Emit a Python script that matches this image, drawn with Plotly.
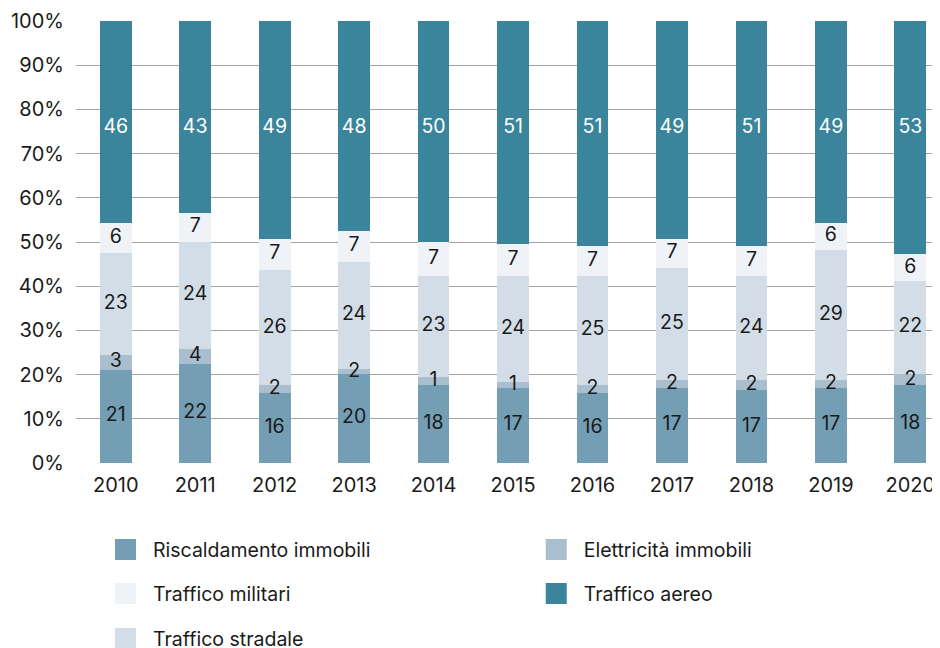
import numpy as np
import plotly.graph_objects as go

years = [2010, 2011, 2012, 2013, 2014, 2015, 2016, 2017, 2018, 2019, 2020]

series_names = ["Riscaldamento immobili", "Elettricità immobili", "Traffico stradale",
                "Traffico militari", "Traffico aereo"]

# bar heights (share in %) as drawn
riscaldamento = [21.15, 22.5, 15.8, 20.1, 17.6, 17.05, 15.8, 17.05, 16.44, 17.05, 17.6]
elettricita = [3.35, 3.4, 1.8, 1.1, 1.8, 1.2, 1.8, 1.65, 2.26, 1.65, 2.5]
stradale = [23.1, 24.2, 26.0, 24.3, 23.0, 24.15, 24.8, 25.5, 23.7, 29.6, 21.1]
militari = [6.65, 6.5, 7.1, 7.0, 7.6, 7.2, 6.6, 6.5, 6.6, 6.0, 6.0]
aereo = [45.75, 43.4, 49.3, 47.5, 50.0, 50.4, 51.0, 49.3, 51.0, 45.7, 52.8]

# printed labels
riscaldamento_lbl = [21, 22, 16, 20, 18, 17, 16, 17, 17, 17, 18]
elettricita_lbl = [3, 4, 2, 2, 1, 1, 2, 2, 2, 2, 2]
stradale_lbl = [23, 24, 26, 24, 23, 24, 25, 25, 24, 29, 22]
militari_lbl = [6, 7, 7, 7, 7, 7, 7, 7, 7, 6, 6]
aereo_lbl = [46, 43, 49, 48, 50, 51, 51, 49, 51, 49, 53]

colors = ["#739eb4", "#a9bfcf", "#d3dde7", "#eff3f7", "#3a849c"]
label_colors = ["#1a1a1a", "#1a1a1a", "#1a1a1a", "#1a1a1a", "#ffffff"]

values = [riscaldamento, elettricita, stradale, militari, aereo]
labels = [riscaldamento_lbl, elettricita_lbl, stradale_lbl, militari_lbl, aereo_lbl]

FONT = "Inter"
TOP_LABEL_LEVEL = 75.8  # the top-series labels sit on one common line

fig = go.Figure()

for name, v, c in zip(series_names, values, colors):
    fig.add_trace(go.Bar(x=years, y=v, name=name, marker=dict(color=c, line=dict(width=0)),
                         width=0.4, showlegend=False, hoverinfo="skip"))

cum = np.zeros(len(years))
for i, (v, lbl, tc) in enumerate(zip(values, labels, label_colors)):
    v = np.array(v)
    mid = cum + v / 2
    cum = cum + v
    if i == len(values) - 1:
        mid = np.full(len(years), TOP_LABEL_LEVEL)
    fig.add_trace(go.Scatter(x=years, y=mid, mode="text", text=[str(t) for t in lbl],
                             textfont=dict(family=FONT, size=19.5, color=tc),
                             showlegend=False, hoverinfo="skip"))

# legend entries (order as in the reference legend)
legend_order = [(0, "legend", 0.02545, -0.1964), (1, "legend2", 0.524, -0.1964),
                (3, "legend3", 0.02545, -0.2959), (4, "legend4", 0.524, -0.2959),
                (2, "legend5", 0.02545, -0.3977)]
for idx, lg, lx, ly in legend_order:
    fig.add_trace(go.Scatter(x=[None], y=[None], name=series_names[idx], legend=lg, mode="markers",
                             marker=dict(symbol="square", size=16, color=colors[idx],
                                         line=dict(color=colors[idx], width=5)),
                             showlegend=True, hoverinfo="skip"))

legend_style = dict(font=dict(family=FONT, size=19.5, color="#1a1a1a"), bgcolor="rgba(0,0,0,0)",
                    xanchor="left", yanchor="middle", orientation="v", itemclick=False,
                    itemdoubleclick=False, itemwidth=45)
layout_legends = {}
for idx, lg, lx, ly in legend_order:
    layout_legends[lg] = dict(legend_style, x=lx, y=ly)

fig.update_layout(
    barmode="stack",
    width=932, height=660,
    margin=dict(l=67.5, r=0, t=12.7, b=205.3),
    paper_bgcolor="white", plot_bgcolor="white",
    font=dict(family=FONT, size=19.5, color="#1a1a1a"),
    xaxis=dict(range=[2009.5, 2020.373], tickvals=years, ticktext=[str(y) for y in years],
               showgrid=False, zeroline=False, showline=False, ticks="",
               tickfont=dict(family=FONT, size=20, color="#1a1a1a"), ticklabelstandoff=8),
    yaxis=dict(range=[0, 100], tickvals=[0, 10, 20, 30, 40, 50, 60, 70, 80, 90, 100],
               ticktext=["0%", "10%", "20%", "30%", "40%", "50%", "60%", "70%", "80%", "90%", "100%"],
               showgrid=True, gridcolor="#a3a3a3", gridwidth=1, zeroline=False, showline=False,
               ticks="", tickfont=dict(family=FONT, size=20, color="#1a1a1a"), ticklabelstandoff=11),
    **layout_legends,
)

fig.write_html("out.html")
